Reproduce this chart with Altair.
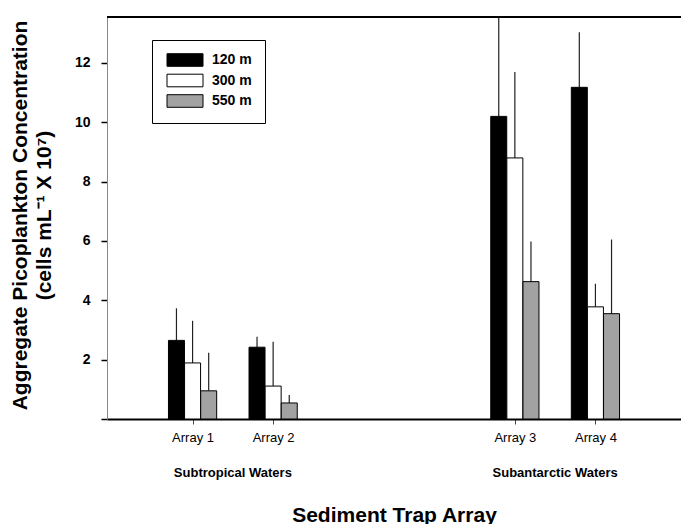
import altair as alt
import pandas as pd

# ---- data ----
arrays = ["Array 1", "Array 2", "Array 3", "Array 4"]
array_pos = [1, 2, 5, 6]
depths = ["120 m", "300 m", "550 m"]
depth_offset = [-0.2, 0.0, 0.2]

conc_120 = [2.65, 2.42, 10.20, 11.18]
conc_300 = [1.89, 1.11, 8.80, 3.78]
conc_550 = [0.95, 0.54, 4.63, 3.55]

err_120 = [1.08, 0.35, 3.40, 1.86]
err_300 = [1.42, 1.49, 2.90, 0.78]
err_550 = [1.28, 0.27, 1.35, 2.50]

groups = ["Subtropical Waters", "Subantarctic Waters"]
group_pos = [1.5, 5.5]

y_ticks = [0, 2, 4, 6, 8, 10, 12]
Y_MAX = 13.55

rows = []
for d, off, vals, errs in zip(depths, depth_offset,
                              [conc_120, conc_300, conc_550],
                              [err_120, err_300, err_550]):
    for a, p, v, e in zip(arrays, array_pos, vals, errs):
        rows.append({"array": a, "depth": d, "x": p + off, "value": v,
                     "upper": min(v + e, Y_MAX)})
df = pd.DataFrame(rows)
gdf = pd.DataFrame({"group": groups, "x": group_pos})

W, H = 574, 402
FONT = "Liberation Sans"

xscale = alt.Scale(domain=[0, 7], nice=False, zero=False)
yscale = alt.Scale(domain=[0, Y_MAX], nice=False, zero=True)

bars = alt.Chart(df).mark_bar(size=16, stroke="black", strokeWidth=1).encode(
    x=alt.X("x:Q", scale=xscale,
            axis=alt.Axis(values=array_pos,
                          labelExpr="datum.value == 1 ? 'Array 1' : datum.value == 2 ? 'Array 2' : datum.value == 5 ? 'Array 3' : 'Array 4'",
                          title="Sediment Trap Array", grid=False,
                          domainColor="black", domainWidth=2,
                          tickColor="#444", tickSize=5, tickWidth=1,
                          labelFontSize=13, labelPadding=7, labelColor="black",
                          titleFontSize=21, titleFontWeight="bold",
                          titleBaseline="middle", titleY=96, titleColor="black")),
    y=alt.Y("value:Q", scale=yscale,
            axis=alt.Axis(values=y_ticks,
                          labelExpr="datum.value == 0 ? '' : datum.label",
                          title=["Aggregate Picoplankton Concentration",
                                 "(cells mL\u207b\u00b9 X 10\u2077)"],
                          grid=False, domainColor="#888", domainWidth=1,
                          tickColor="black", tickSize=6, tickWidth=1.5,
                          labelFontSize=14, labelFontWeight="bold",
                          labelPadding=11, labelColor="black",
                          titleFontSize=21, titleFontWeight="bold",
                          titleAngle=-90, titleBaseline="top",
                          titleAlign="center", titleX=-98, titleY=198,
                          titleLineHeight=24, titleColor="black")),
    color=alt.Color("depth:N",
                    scale=alt.Scale(domain=depths,
                                    range=["black", "white", "#a2a2a2"]),
                    legend=alt.Legend(title=None, orient="none",
                                      legendX=45, legendY=23,
                                      padding=13, strokeColor="black",
                                      fillColor="white",
                                      symbolType="M-1,-1.26L6.2,-1.26L6.2,1.26L-1,1.26Z",
                                      symbolSize=100,
                                      symbolStrokeColor="black",
                                      symbolStrokeWidth=1,
                                      labelFontSize=14, labelFontWeight="bold",
                                      labelOffset=33, rowPadding=2.5,
                                      labelColor="black")),
)

errs = alt.Chart(df).mark_rule(color="#222", strokeWidth=1.2).encode(
    x=alt.X("x:Q", scale=xscale),
    y=alt.Y("value:Q", scale=yscale),
    y2="upper:Q",
)

top_line = alt.Chart(gdf).mark_rule(color="black", strokeWidth=2).encode(
    x=alt.value(0), x2=alt.value(W), y=alt.value(0)
)

group_labels = alt.Chart(gdf).mark_text(
    fontSize=13, fontWeight="bold", baseline="middle", color="black"
).encode(
    x=alt.X("x:Q", scale=xscale),
    y=alt.value(H + 54),
    text="group:N",
)

chart = alt.layer(errs, bars, top_line, group_labels).properties(
    width=W, height=H,
    autosize=alt.AutoSizeParams(type="none"),
    padding={"left": 107, "top": 17, "right": 0, "bottom": 105},
).configure(font=FONT).configure_view(strokeWidth=0)

chart.save("out.html", embed_options={"renderer": "svg", "actions": False})
